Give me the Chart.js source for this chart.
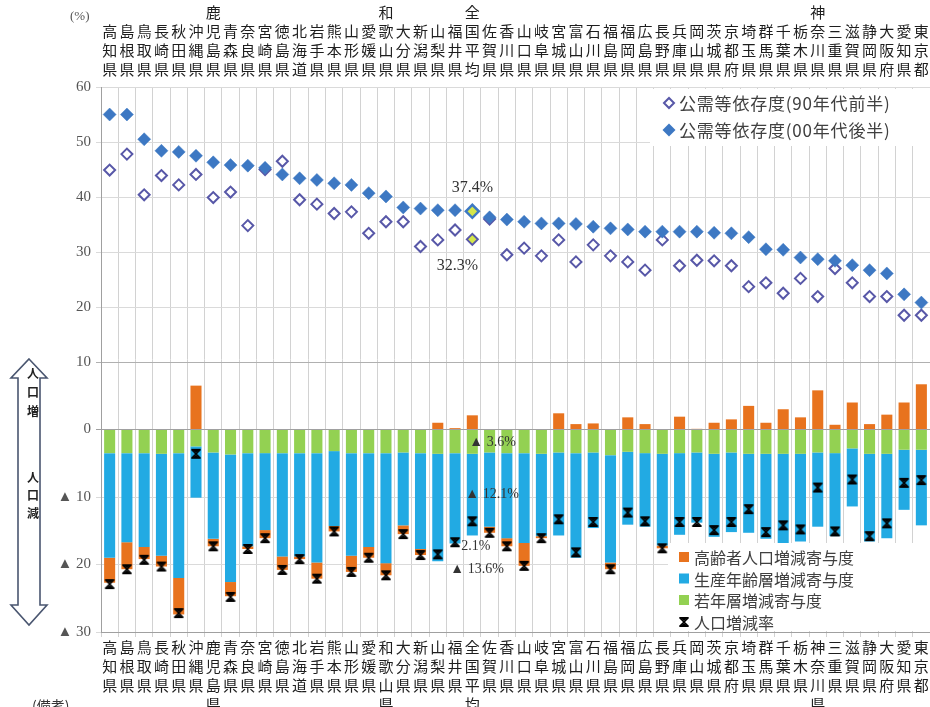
<!DOCTYPE html>
<html><head><meta charset="utf-8">
<script src="https://cdn.jsdelivr.net/npm/chart.js@4.4.0/dist/chart.umd.min.js"></script>
<style>html,body{margin:0;padding:0;background:#fff;overflow:hidden;}#wrap{width:930px;height:707px;position:relative;}canvas{display:block;}</style>
</head><body><div id="wrap"><canvas id="c"></canvas></div>
<script>
// ---- data ----
const categories = ['高知県','島根県','鳥取県','長崎県','秋田県','沖縄県','鹿児島県','青森県','奈良県','宮崎県','徳島県','北海道','岩手県','熊本県','山形県','愛媛県','和歌山県','大分県','新潟県','山梨県','福井県','全国平均','佐賀県','香川県','山口県','岐阜県','宮城県','富山県','石川県','福島県','福岡県','広島県','長野県','兵庫県','岡山県','茨城県','京都府','埼玉県','群馬県','千葉県','栃木県','神奈川県','三重県','滋賀県','静岡県','大阪府','愛知県','東京都'];
// 公需等依存度 (90年代前半) / (00年代後半)  [%]
const dep90 = [44.9,47.8,40.4,43.9,42.2,44.1,39.9,40.9,34.8,45.0,46.5,39.5,38.7,37.0,37.3,33.4,35.5,35.5,31.0,32.2,34.0,32.3,36.0,29.5,30.7,29.3,32.2,28.2,31.3,29.3,28.2,26.7,32.2,27.5,28.5,28.4,27.5,23.7,24.4,22.5,25.2,21.9,27.0,24.4,21.9,21.9,18.5,18.5];
const dep00 = [55.0,55.0,50.5,48.4,48.2,47.5,46.3,45.8,45.7,45.3,44.1,43.4,43.1,42.5,42.2,40.7,40.1,38.1,37.9,37.6,37.6,37.4,36.3,35.9,35.5,35.2,35.2,35.1,34.6,34.3,34.1,33.7,33.7,33.7,33.7,33.5,33.4,32.7,30.5,30.4,29.0,28.7,28.4,27.6,26.7,26.1,22.3,20.8];
// 人口増減寄与度 [%]
const youngContrib   = [-3.5,-3.5,-3.5,-3.6,-3.5,-2.5,-3.4,-3.7,-3.5,-3.5,-3.5,-3.5,-3.5,-3.2,-3.5,-3.5,-3.5,-3.4,-3.5,-3.6,-3.5,-3.6,-3.4,-3.5,-3.5,-3.6,-3.4,-3.5,-3.4,-3.8,-3.3,-3.5,-3.6,-3.5,-3.4,-3.6,-3.4,-3.6,-3.6,-3.6,-3.6,-3.4,-3.5,-2.8,-3.6,-3.6,-3.0,-3.0];
const workingContrib = [-15.5,-13.2,-13.9,-15.1,-18.5,-7.6,-12.8,-18.9,-13.8,-11.4,-15.3,-15.3,-16.2,-11.1,-15.2,-13.9,-16.3,-10.8,-14.2,-15.9,-13.4,-12.1,-11.0,-12.6,-13.3,-12.2,-12.3,-15.5,-11.2,-15.9,-10.8,-10.9,-13.6,-12.1,-10.4,-12.3,-11.8,-11.7,-12.6,-13.6,-13.0,-11.0,-12.3,-8.6,-13.0,-12.5,-8.9,-11.2];
const elderlyContrib = [-3.7,-4.0,-1.8,-1.6,-5.4,6.5,-1.1,-2.1,-0.4,-1.2,-2.0,-0.4,-2.4,-0.8,-2.4,-1.6,-1.8,-1.3,-0.9,1.0,0.2,2.1,-0.9,-1.2,-3.4,-0.3,2.4,0.8,0.9,-1.0,1.8,0.8,-0.4,1.9,0.1,1.0,1.5,3.5,1.0,3.0,1.8,5.8,0.7,4.0,0.8,2.2,4.0,6.7];
const popChange      = [-22.9,-20.7,-19.3,-20.3,-27.2,-3.6,-17.3,-24.8,-17.7,-16.1,-20.8,-19.2,-22.1,-15.1,-21.1,-19.0,-21.6,-15.5,-18.6,-18.5,-16.7,-13.6,-15.3,-17.3,-20.2,-16.1,-13.3,-18.2,-13.7,-20.7,-12.3,-13.6,-17.6,-13.7,-13.7,-14.9,-13.7,-11.8,-15.2,-14.2,-14.8,-8.6,-15.1,-7.4,-15.8,-13.9,-7.9,-7.5];
const topTicks = [10,20,30,40,50,60];
const bottomTicks = [-30,-20,-10,0,10];
const LBL_DEP90 = '公需等依存度(90年代前半)';
const LBL_DEP00 = '公需等依存度(00年代後半)';
const LBL_OLD = '高齢者人口増減寄与度';
const LBL_WORK = '生産年齢層増減寄与度';
const LBL_YOUNG = '若年層増減寄与度';
const LBL_TOTAL = '人口増減率';

// ---- styles ----
const JP = '"Noto Sans CJK JP", "Noto Sans", sans-serif';
const SERIF = '"Liberation Serif", "DejaVu Serif", serif';
const C_FILLED = '#3D78C3', C_OPEN = '#5858A8', C_NAT = '#D4E64A';
const C_OLD = '#E8731E', C_WORK = '#22AAE3', C_YOUNG = '#93D152';
const natIdx = categories.indexOf('全国平均');

const mk = document.createElement('canvas'); mk.width = 12; mk.height = 12;
(function(){ const g = mk.getContext('2d'); g.fillStyle='#000'; g.strokeStyle='#000'; g.lineWidth=1.6;
  g.beginPath(); g.moveTo(1,1); g.lineTo(11,1); g.lineTo(6,5); g.closePath(); g.fill();
  g.beginPath(); g.moveTo(1,11); g.lineTo(11,11); g.lineTo(6,7); g.closePath(); g.fill();
  g.beginPath(); g.moveTo(1.5,1.5); g.lineTo(10.5,10.5); g.moveTo(10.5,1.5); g.lineTo(1.5,10.5); g.stroke(); })();

const catLabels = categories.map(s => s.split(''));
const tickFont = {family: SERIF, size: 15};
const catFont = {family: JP, size: 15, lineHeight: 1.27};

function diamond(g, x, y, r, fill, stroke, lw){
  g.beginPath(); g.moveTo(x-r,y); g.lineTo(x,y-r); g.lineTo(x+r,y); g.lineTo(x,y+r); g.closePath();
  if (fill){ g.fillStyle = fill; g.fill(); }
  if (stroke){ g.strokeStyle = stroke; g.lineWidth = lw; g.stroke(); }
}

const overlay = {
  id: 'overlay',
  afterDraw(chart){
    const g = chart.ctx, xs = chart.scales.x, yT = chart.scales.yT, yB = chart.scales.yB;
    g.save();
    // (%)
    g.font = '13px ' + SERIF; g.fillStyle = '#555'; g.textAlign = 'left'; g.textBaseline = 'middle';
    g.fillText('(%)', 70, 17);
    // (備考)
    g.font = '14px ' + JP; g.fillStyle = '#333'; g.textBaseline = 'top';
    g.fillText('(備考)', 32, 699);
    // left arrow
    const cx = 29, t = yB.getPixelForValue(10) - 3, b = yB.getPixelForValue(-30) - 7;
    g.beginPath();
    g.moveTo(cx, t); g.lineTo(cx+18, t+19); g.lineTo(cx+11, t+19); g.lineTo(cx+11, b-20);
    g.lineTo(cx+18, b-20); g.lineTo(cx, b); g.lineTo(cx-18, b-20); g.lineTo(cx-11, b-20);
    g.lineTo(cx-11, t+19); g.lineTo(cx-18, t+19); g.closePath();
    g.fillStyle = '#fff'; g.fill(); g.strokeStyle = '#4A5670'; g.lineWidth = 1.6; g.stroke();
    g.font = 'bold 12px ' + JP; g.fillStyle = '#222'; g.textAlign = 'center'; g.textBaseline = 'middle';
    ['人','口','増'].forEach((ch,i) => g.fillText(ch, 33, 373 + i*19));
    ['人','口','減'].forEach((ch,i) => g.fillText(ch, 33, 477 + i*18));
    // top legend
    g.fillStyle = '#fff'; g.fillRect(650, 89, 280, 57);
    g.font = '17px ' + JP; g.textAlign = 'left'; g.textBaseline = 'middle';
    try { g.letterSpacing = '0.8px'; } catch(e) {}
    diamond(g, 669, 103, 5, '#fff', C_OPEN, 2);
    g.fillStyle = '#404040'; g.fillText(LBL_DEP90, 679, 104);
    diamond(g, 669, 130, 6.5, C_FILLED, null, 0);
    g.fillStyle = '#404040'; g.fillText(LBL_DEP00, 679, 131);
    try { g.letterSpacing = '0px'; } catch(e) {}
    // bottom legend
    g.font = '16px ' + JP;
    g.fillStyle = '#fff'; g.fillRect(668, 543, 262, 88);
    const rows = [[LBL_OLD, C_OLD], [LBL_WORK, C_WORK], [LBL_YOUNG, C_YOUNG]];
    rows.forEach((r,i) => { const y = 557 + i*21.5; g.fillStyle = r[1]; g.fillRect(679, y-5, 10, 10);
      g.fillStyle = '#404040'; g.fillText(r[0], 694, y+1); });
    g.drawImage(mk, 678, 622-6);
    g.fillStyle = '#404040'; g.fillText(LBL_TOTAL, 694, 623);
    // annotations for 全国平均
    const nx = xs.getPixelForValue(natIdx);
    g.font = '16px ' + SERIF; g.fillStyle = '#333'; g.textAlign = 'center';
    g.fillText(dep00[natIdx].toFixed(1) + '%', nx, yT.getPixelForValue(dep00[natIdx]) - 24);
    g.fillText(dep90[natIdx].toFixed(1) + '%', nx - 15, yT.getPixelForValue(dep90[natIdx]) + 26);
    g.font = '14px ' + SERIF; g.textAlign = 'left';
    const fmt = v => (v < 0 ? '▲ ' : '') + Math.abs(v).toFixed(1) + '%';
    g.fillText(fmt(youngContrib[natIdx]), nx - 3, yB.getPixelForValue(youngContrib[natIdx] / 2) + 1);
    g.fillText(fmt(workingContrib[natIdx]), nx - 7, yB.getPixelForValue(youngContrib[natIdx] + workingContrib[natIdx] / 2));
    g.fillText(fmt(elderlyContrib[natIdx]), nx - 11, yB.getPixelForValue(-17.3));
    g.fillText(fmt(popChange[natIdx]), nx - 22, yB.getPixelForValue(-20.7));
    g.restore();
  }
};

new Chart(document.getElementById('c'), {
  type: 'bar',
  data: {
    labels: catLabels,
    datasets: [
      { type: 'line', label: LBL_DEP00, data: dep00, yAxisID: 'yT', showLine: false, order: -3,
        pointStyle: 'rectRot', pointRadius: 6.5, pointHoverRadius: 6.5,
        pointBackgroundColor: ctx => ctx.dataIndex === natIdx ? C_NAT : C_FILLED,
        pointBorderColor: C_FILLED, pointBorderWidth: ctx => ctx.dataIndex === natIdx ? 2.5 : 0.5 },
      { type: 'line', label: LBL_DEP90, data: dep90, yAxisID: 'yT', showLine: false, order: -2,
        pointStyle: 'rectRot', pointRadius: 5.5, pointHoverRadius: 5.5,
        pointBackgroundColor: ctx => ctx.dataIndex === natIdx ? C_NAT : '#fff',
        pointBorderColor: C_OPEN, pointBorderWidth: 2 },
      { type: 'line', label: LBL_TOTAL, data: popChange, yAxisID: 'yB', stack: 'total', showLine: false, order: -1,
        pointStyle: mk, pointRadius: 6 },
      { label: LBL_YOUNG, data: youngContrib, backgroundColor: C_YOUNG, yAxisID: 'yB', stack: 'pop', barPercentage: 0.64, categoryPercentage: 1, order: 0 },
      { label: LBL_WORK, data: workingContrib, backgroundColor: C_WORK, yAxisID: 'yB', stack: 'pop', barPercentage: 0.64, categoryPercentage: 1, order: 0 },
      { label: LBL_OLD, data: elderlyContrib, backgroundColor: C_OLD, yAxisID: 'yB', stack: 'pop', barPercentage: 0.64, categoryPercentage: 1, order: 0 }
    ]
  },
  options: {
    responsive: true, maintainAspectRatio: false, animation: false,
    layout: { padding: 0, autoPadding: false },
    plugins: { legend: { display: false }, tooltip: { enabled: false } },
    scales: {
      x: { type: 'category', position: 'bottom', offset: true, stacked: true,
        grid: { offset: true, color: '#d2d2d2', tickLength: 5 },
        border: { color: '#a0a0a0' },
        ticks: { autoSkip: false, maxRotation: 0, minRotation: 0, padding: 1, color: '#1e1e1e', font: catFont },
        afterFit: s => { s.height = 75; s.paddingLeft = 0; s.paddingRight = 0; } },
      xTop: { type: 'category', position: 'top', labels: catLabels, offset: true,
        grid: { display: false }, border: { display: false },
        ticks: { autoSkip: false, maxRotation: 0, minRotation: 0, padding: 0, color: '#1e1e1e', font: catFont },
        afterFit: s => { s.height = 87; s.paddingLeft = 0; s.paddingRight = 0; } },
      yT: { type: 'linear', position: 'left', stack: 'v', stackWeight: 275, weight: 2, min: 10, max: 60,
        afterBuildTicks: s => { s.ticks = topTicks.map(v => ({value: v})); },
        ticks: { callback: v => v === 10 ? '' : String(v), color: '#555', font: tickFont, padding: 5 },
        grid: { color: c => c.tick && c.tick.value === 10 ? '#b0b0b0' : '#dadada', tickLength: 5 },
        border: { color: '#a0a0a0' },
        afterFit: s => { s.width = 101; } },
      yB: { type: 'linear', position: 'left', stack: 'v', stackWeight: 270, weight: 1, min: -30, max: 10, stacked: true,
        afterBuildTicks: s => { s.ticks = bottomTicks.map(v => ({value: v})); },
        ticks: { callback: v => v < 0 ? '▲ ' + (-v) : String(v), color: '#555', font: tickFont, padding: 5 },
        grid: { color: c => c.tick && c.tick.value === 0 ? '#a0a0a0' : (c.tick && c.tick.value === 10 ? '#b0b0b0' : '#dadada'), tickLength: 5 },
        border: { color: '#a0a0a0' },
        afterFit: s => { s.width = 101; } }
    }
  },
  plugins: [overlay]
});
</script></body></html>
